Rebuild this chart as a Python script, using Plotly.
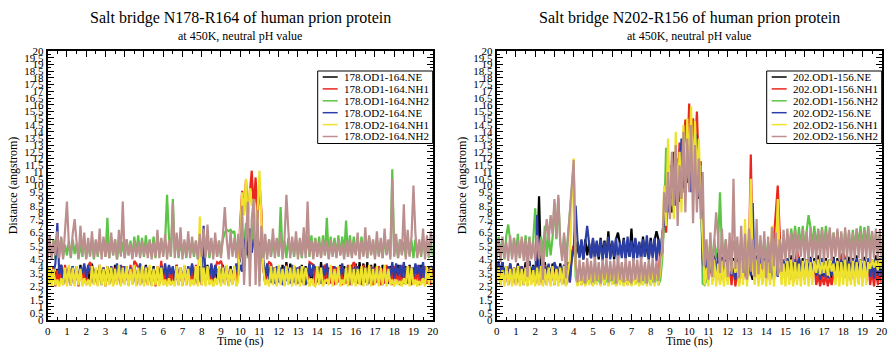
import plotly.graph_objects as go

W, H = 889, 348
FONT = "Liberation Serif"

# ---------------- data ----------------
TIME_STEP_NS = 0.1

LEFT_TITLE = "Salt bridge N178-R164 of human prion protein"
RIGHT_TITLE = "Salt bridge N202-R156 of human prion protein"
SUBTITLE = "at 450K, neutral pH value"
X_LABEL = "Time (ns)"
Y_LABEL = "Distance (angstrom)"

LEFT_NAMES = ["178.OD1-164.NE", "178.OD1-164.NH1", "178.OD1-164.NH2",
              "178.OD2-164.NE", "178.OD2-164.NH1", "178.OD2-164.NH2"]
RIGHT_NAMES = ["202.OD1-156.NE", "202.OD1-156.NH1", "202.OD1-156.NH2",
               "202.OD2-156.NE", "202.OD2-156.NH1", "202.OD2-156.NH2"]
COLORS = ["#000000", "#e8281e", "#5cc545", "#2c3fa8", "#eee22c", "#bc8f8f"]

X_TICK_VALS = list(range(21))
X_TICK_LABELS = [str(v) for v in range(21)]
Y_TICK_VALS = [0, 0.5, 1, 1.5, 2, 2.5, 3, 3.5, 4, 4.5, 5, 5.5, 6, 6.5, 7, 7.5, 8, 8.5, 9, 9.5,
               10, 10.5, 11, 11.5, 12, 12.5, 13, 13.5, 14, 14.5, 15, 15.5, 16, 16.5, 17, 17.5,
               18, 18.5, 19, 19.5, 20]
Y_TICK_LABELS = ["0", "0.5", "1", "1.5", "2", "2.5", "3", "3.5", "4", "4.5", "5", "5.5", "6",
                 "6.5", "7", "7.5", "8", "8.5", "9", "9.5", "10", "10.5", "11", "11.5", "12",
                 "12.5", "13", "13.5", "14", "14.5", "15", "15.5", "16", "16.5", "17", "17.5",
                 "18", "18.5", "19", "19.5", "20"]

# ---- left panel: N178-R164 (one value every 0.1 ns, 0..20 ns) ----
L_OD1_NE = [
    3.0,3.9,2.8,4.0,2.9,3.8,2.7,4.1,3.0,3.7,
    2.8,3.9,3.1,4.0,2.7,3.8,2.9,4.1,2.8,3.9,
    3.0,3.7,2.7,4.2,2.9,3.8,3.1,4.0,2.8,3.9,
    2.7,4.0,3.0,3.8,2.8,4.1,2.9,3.7,2.7,3.9,
    3.0,4.0,2.8,3.8,2.9,4.1,2.7,3.9,3.0,3.8,
    2.8,4.1,3.0,3.9,2.7,4.0,2.9,3.8,2.8,4.1,
    2.9,3.8,2.7,4.0,3.0,3.9,2.8,4.1,2.9,3.7,
    2.7,4.0,2.9,3.8,3.0,4.1,2.8,3.9,2.7,4.0,
    3.0,3.9,2.8,4.1,2.9,3.8,2.7,4.0,3.0,3.9,
    2.8,4.1,2.9,3.8,2.7,4.0,3.0,3.9,2.8,4.0,
    4.6,6.2,5.0,6.8,4.8,6.0,5.4,6.5,4.9,5.8,
    5.2,6.0,3.9,2.8,4.0,3.0,4.2,2.7,3.9,2.9,
    4.0,2.8,4.1,3.0,4.3,2.9,4.2,2.8,4.0,3.0,
    3.9,2.7,4.1,2.9,4.0,3.0,3.8,2.8,4.1,2.9,
    4.0,2.8,4.3,3.0,4.1,2.7,3.9,2.9,4.0,2.8,
    3.9,3.0,4.1,2.8,4.0,2.9,3.8,2.7,4.1,3.0,
    4.2,2.9,4.3,3.1,4.2,3.0,4.3,2.9,4.1,3.0,
    4.2,2.8,4.0,3.0,4.1,2.9,3.9,2.7,4.0,2.8,
    3.9,3.0,4.1,2.9,3.8,2.7,4.0,3.0,4.1,2.8,
    3.9,2.9,4.0,2.8,4.1,3.0,3.8,2.7,4.0,2.9,
    3.9]
L_OD1_NH1 = [
    2.6,3.8,2.7,4.0,2.5,3.7,2.8,3.9,2.6,4.1,
    2.7,3.9,2.6,3.8,2.8,4.0,2.5,3.9,2.7,3.8,
    2.6,4.0,4.3,3.9,2.7,3.8,2.6,4.1,2.8,3.9,
    2.5,3.8,2.7,4.0,2.6,3.9,2.8,3.7,2.6,4.0,
    2.7,3.9,2.6,4.1,2.8,4.4,4.2,3.9,2.6,3.8,
    2.8,4.0,2.6,3.9,2.7,3.8,2.5,4.0,2.7,4.4,
    2.6,3.9,2.8,4.0,2.6,3.8,2.7,4.1,2.6,3.9,
    2.7,3.8,2.6,4.0,2.8,3.9,2.6,4.1,2.7,3.8,
    2.6,4.0,2.8,3.9,2.7,4.1,2.6,3.8,4.3,4.2,
    4.4,3.9,2.7,4.0,2.6,3.8,2.7,4.0,2.6,3.9,
    7.2,9.6,8.0,10.4,7.8,9.5,11.1,8.2,10.6,7.5,
    10.3,8.1,3.9,2.7,4.0,4.3,4.2,2.8,3.9,2.6,
    4.0,2.7,3.8,2.6,4.1,2.8,3.9,2.7,4.0,2.6,
    3.9,2.8,4.0,2.6,3.8,2.7,4.3,4.2,4.1,2.6,
    4.0,2.7,3.9,2.6,4.1,2.8,3.8,2.7,4.0,2.6,
    3.9,2.8,4.0,2.6,3.8,2.7,4.1,2.6,3.9,4.3,
    4.0,2.7,3.8,2.6,4.1,2.8,3.9,2.7,4.0,2.6,
    3.9,2.8,4.0,2.6,3.8,2.7,4.1,2.8,3.9,2.6,
    4.0,2.7,3.8,2.6,4.1,2.8,3.9,2.7,4.0,2.6,
    3.8,2.7,4.1,2.6,3.9,2.8,4.0,2.7,3.8,2.6,
    3.9]
L_OD1_NH2 = [
    4.6,5.8,4.8,6.0,4.5,5.7,4.9,6.1,4.7,5.6,
    4.8,5.9,4.6,6.0,4.9,5.7,4.5,5.8,4.7,6.0,
    4.6,5.7,4.8,6.1,4.5,5.9,4.7,5.8,4.9,6.0,
    4.7,7.6,4.6,5.9,4.8,6.0,4.5,5.7,4.9,5.8,
    4.6,6.0,4.8,5.9,4.7,6.2,4.9,6.3,4.8,6.1,
    4.7,6.3,4.9,6.0,4.8,6.2,4.6,6.1,4.9,6.0,
    4.8,5.9,9.3,6.2,4.7,9.0,5.0,6.1,4.6,6.0,
    4.8,5.8,4.6,6.0,4.9,5.7,4.7,5.9,4.5,6.0,
    4.7,5.9,4.8,6.1,4.6,5.8,4.9,6.0,4.7,5.9,
    4.8,6.0,6.5,6.7,6.6,6.7,6.5,6.6,4.8,6.0,
    4.9,6.3,5.0,7.2,4.6,6.8,5.2,7.5,4.8,6.2,
    2.9,6.0,4.6,5.8,4.8,6.0,4.7,5.9,4.9,6.0,
    4.7,8.4,4.8,5.9,4.6,6.1,4.9,5.8,4.7,6.0,
    4.8,5.9,4.6,6.0,4.9,6.2,4.7,6.3,4.8,6.1,
    4.9,6.2,4.7,6.3,4.8,7.6,4.6,6.2,4.9,6.1,
    4.7,6.3,4.8,6.2,4.9,7.4,4.7,6.3,4.8,6.2,
    4.9,6.1,4.7,6.2,4.8,6.0,4.6,6.1,4.9,5.9,
    4.7,6.0,4.8,5.8,4.6,6.1,4.9,5.9,4.7,11.2,
    4.8,5.9,4.6,6.0,4.9,5.8,4.7,6.1,4.8,5.9,
    4.6,6.0,4.8,5.8,4.7,6.1,4.9,5.9,4.6,6.0,
    4.8]
L_OD2_NE = [
    2.7,3.9,2.8,3.6,4.2,7.2,3.4,4.1,2.7,3.8,
    2.8,3.9,2.6,4.0,2.9,3.7,2.7,3.9,3.5,4.2,
    3.2,4.1,3.4,3.9,2.7,3.8,2.8,4.0,2.6,3.9,
    2.8,3.7,2.7,4.0,2.9,3.4,4.2,3.1,4.1,3.3,
    4.0,3.2,2.8,3.9,2.7,3.8,2.6,3.4,4.2,3.3,
    2.7,4.0,2.8,3.8,2.6,3.9,2.9,3.7,2.7,4.0,
    3.3,4.2,3.1,4.1,3.4,4.0,2.8,3.9,2.7,3.8,
    2.6,3.9,2.8,4.0,3.3,4.2,3.2,3.8,2.7,3.9,
    2.8,7.0,2.7,3.9,3.2,4.2,3.1,4.1,3.4,3.8,
    2.7,3.9,2.8,4.0,2.6,3.8,2.9,3.4,4.2,3.3,
    4.1,3.6,5.5,6.2,4.8,6.8,5.0,6.0,5.3,6.4,
    5.0,5.8,4.3,3.2,4.2,3.0,2.8,3.9,2.7,4.0,
    2.8,3.9,2.6,4.0,2.9,3.8,2.7,4.1,2.8,3.9,
    2.7,4.0,2.8,3.8,2.6,3.3,4.2,3.2,4.1,3.9,
    2.8,3.9,2.7,4.0,3.3,4.2,3.1,3.8,2.9,4.0,
    2.7,3.8,3.3,4.2,3.2,3.9,2.8,4.0,2.6,3.9,
    2.8,4.0,2.7,3.8,2.9,3.9,2.6,4.0,2.8,3.9,
    2.7,4.0,2.9,3.8,2.6,3.9,2.8,4.0,3.2,4.3,
    3.1,4.2,3.3,4.1,3.2,4.3,3.0,4.0,2.8,3.9,
    3.2,4.2,3.4,4.1,3.1,4.3,2.9,3.8,2.7,4.0,
    3.8]
L_OD2_NH1 = [
    2.6,4.0,2.5,3.8,2.6,3.0,2.5,3.1,2.6,3.9,
    2.5,4.1,2.6,3.9,2.5,4.0,2.6,3.8,2.5,3.1,
    2.6,3.0,2.5,4.0,2.6,3.9,2.5,4.1,2.6,3.8,
    2.5,4.0,2.6,3.9,2.5,3.8,2.6,4.1,2.5,3.9,
    2.6,4.0,2.5,3.8,2.6,4.1,2.5,3.9,2.6,4.0,
    2.5,3.9,2.6,4.1,2.5,3.8,2.6,4.0,2.5,3.9,
    2.6,3.0,2.5,3.1,2.6,2.9,2.5,4.0,2.6,3.9,
    2.5,4.1,2.6,3.8,2.5,3.0,2.6,4.0,2.5,7.7,
    2.6,3.9,2.5,4.0,2.6,3.0,2.5,3.1,2.6,4.0,
    2.5,3.9,2.6,4.1,2.5,3.8,2.6,4.0,2.5,2.9,
    6.5,9.5,7.8,10.5,7.0,9.8,8.5,9.0,6.8,8.2,
    11.1,7.5,3.9,2.6,3.0,2.5,4.0,2.6,3.9,2.5,
    4.1,2.6,3.8,2.5,4.0,2.6,3.9,2.5,4.1,2.6,
    3.8,2.5,4.0,2.6,3.9,3.0,2.5,3.1,2.6,2.5,
    4.0,2.6,3.9,2.5,2.9,3.0,2.6,4.1,2.5,3.8,
    2.6,4.0,2.5,3.0,2.6,3.9,2.5,4.1,2.6,3.8,
    2.5,3.8,2.6,4.0,2.5,3.9,2.6,4.1,2.5,3.8,
    2.6,4.0,2.5,3.9,2.6,4.1,2.5,3.8,2.6,3.0,
    2.5,3.0,2.6,2.9,2.5,3.1,2.6,4.0,2.5,3.9,
    2.6,3.0,2.5,2.9,2.6,3.1,2.5,4.0,2.6,3.9,
    2.6]
L_OD2_NH2 = [
    4.6,6.3,4.5,5.9,4.8,6.6,4.6,6.2,4.5,6.9,
    8.8,5.6,4.7,6.4,7.5,5.8,4.6,7.0,4.8,6.5,
    4.5,6.1,4.7,6.6,4.6,6.0,4.8,6.8,4.5,6.2,
    4.7,5.8,4.6,6.5,4.8,6.0,4.5,6.7,4.7,8.8,
    4.6,6.0,4.8,5.7,4.5,5.9,4.7,5.8,4.6,5.9,
    4.8,5.7,4.6,5.9,4.5,5.8,4.7,6.7,4.6,6.1,
    4.7,6.4,4.5,5.9,4.8,8.7,4.6,6.5,4.7,6.9,
    4.5,6.0,4.7,6.6,4.6,6.2,4.8,5.9,4.5,6.4,
    4.7,6.8,4.6,7.1,4.8,6.1,4.5,6.5,4.7,5.9,
    4.6,6.3,8.4,6.0,4.5,6.6,4.7,6.1,4.6,6.4,
    4.5,8.5,2.6,6.0,8.8,2.5,7.5,9.0,2.6,8.2,
    2.5,7.0,4.6,6.4,4.5,6.0,4.7,6.8,4.6,6.1,
    4.8,6.5,4.5,6.0,9.3,6.7,4.6,6.2,4.8,6.6,
    4.5,6.1,4.7,6.9,4.6,8.8,4.8,5.9,4.5,6.0,
    4.7,5.8,4.6,6.0,4.8,5.9,4.5,6.0,4.7,5.8,
    4.6,6.0,4.8,5.7,4.5,5.9,4.7,6.0,4.6,5.8,
    4.8,6.5,4.5,5.9,4.7,6.9,4.6,6.3,4.8,6.0,
    4.5,6.6,4.7,6.1,4.6,6.8,4.8,6.0,4.5,10.5,
    4.7,6.4,4.6,6.0,4.8,8.6,4.5,6.7,4.7,6.2,
    10.0,6.5,4.6,6.0,4.8,6.8,4.5,6.3,4.7,6.6,
    5.8]

# ---- right panel: N202-R156 ----
R_OD1_NE = [
    3.2,4.1,3.0,4.3,3.3,4.0,3.1,4.2,3.0,3.9,
    3.3,4.2,3.1,4.0,3.2,4.3,3.5,4.4,3.2,4.1,
    3.0,4.2,9.2,4.0,3.1,4.3,3.2,4.1,3.0,4.2,
    3.3,4.0,3.1,4.2,3.2,4.1,3.0,4.3,3.4,4.8,
    5.5,4.6,5.8,4.7,5.9,4.5,6.0,4.8,5.7,4.6,
    6.0,4.7,5.8,4.5,6.1,4.8,5.9,4.6,6.6,4.7,
    5.8,4.5,6.0,6.5,5.7,4.8,6.1,4.6,5.9,4.7,
    6.8,4.5,6.0,4.8,5.8,4.6,6.2,4.7,5.9,4.5,
    6.1,4.8,5.9,6.6,6.0,4.6,6.3,7.5,9.0,8.2,
    10.5,8.0,11.0,9.2,12.0,8.8,11.5,9.5,13.0,10.2,
    12.5,9.8,11.8,10.5,12.2,9.0,10.8,4.2,3.5,4.6,
    3.2,4.5,3.4,4.8,3.1,4.4,3.3,4.7,3.2,4.5,
    3.5,4.8,3.2,4.6,3.4,4.9,3.1,4.5,3.3,4.7,
    3.2,4.6,3.5,3.0,3.4,4.8,3.1,4.5,3.3,4.6,
    3.1,4.7,3.4,4.5,3.2,4.8,3.3,4.6,3.1,4.4,
    3.3,4.6,3.2,4.8,3.4,4.5,3.1,4.7,3.3,4.6,
    3.2,4.5,3.4,4.7,3.1,4.6,3.3,4.8,3.0,3.4,
    3.2,4.6,3.4,4.5,3.1,4.7,3.3,4.6,3.2,4.8,
    3.4,4.5,3.1,4.7,3.3,4.6,3.2,4.8,3.4,4.5,
    3.1,4.7,3.3,4.6,3.2,4.5,3.4,4.8,3.1,4.6,
    3.3]
R_OD1_NH1 = [
    2.7,3.9,2.6,4.0,2.8,3.8,2.6,4.1,2.7,3.9,
    2.6,3.8,2.8,4.0,2.7,3.9,2.6,4.1,2.8,3.8,
    2.7,4.0,2.6,3.9,2.8,4.1,2.6,3.8,2.7,4.0,
    2.6,3.9,2.8,4.0,2.7,3.8,2.6,4.1,2.8,5.0,
    5.5,3.9,2.7,4.0,2.6,3.8,2.8,4.1,2.7,3.9,
    2.6,4.0,2.8,3.8,2.7,4.1,2.6,3.9,2.8,4.0,
    2.7,3.8,2.6,4.1,2.8,3.9,2.7,4.0,2.6,3.8,
    2.8,4.1,2.7,3.9,2.6,4.0,2.8,3.8,2.7,4.1,
    2.6,3.9,2.8,4.0,2.7,5.6,5.0,7.8,6.5,9.2,
    8.0,10.5,9.0,12.0,10.0,13.2,11.0,12.5,14.9,12.0,
    16.1,13.0,15.0,12.5,15.5,11.0,11.8,5.0,3.8,4.6,
    3.0,4.4,2.9,4.2,3.1,4.5,2.8,4.3,3.0,4.4,
    2.9,4.1,2.6,4.2,2.5,3.8,2.7,4.4,3.0,4.5,
    3.1,4.3,12.3,4.5,2.9,4.2,3.0,4.4,2.8,4.3,
    3.0,4.5,2.9,4.2,5.8,8.0,10.0,6.2,3.1,4.4,
    2.9,4.3,3.0,4.5,2.8,4.2,5.2,4.5,3.1,4.4,
    3.0,4.2,2.9,4.5,3.1,4.3,2.6,3.4,2.5,3.3,
    2.6,3.4,2.5,3.2,2.6,3.5,3.0,4.4,2.9,4.8,
    5.0,4.6,3.1,4.3,2.9,4.5,3.0,4.2,2.8,4.4,
    3.1,4.3,2.9,4.5,2.6,3.7,2.5,3.8,2.6,3.6,
    2.7]
R_OD1_NH2 = [
    4.6,6.2,4.8,6.0,4.5,6.3,7.1,5.9,4.7,6.1,
    4.9,6.4,4.6,6.0,4.8,6.3,4.5,6.2,4.7,6.0,
    8.3,5.8,4.6,6.2,4.9,7.0,4.7,6.4,4.8,6.1,
    8.7,6.0,9.1,5.8,4.7,6.3,4.8,6.1,7.8,10.0,
    11.5,3.2,2.6,3.4,2.7,3.1,2.6,3.3,2.8,3.0,
    2.6,3.4,2.7,3.2,2.6,3.5,2.8,3.1,2.6,3.3,
    2.7,3.0,2.6,3.4,2.8,3.2,2.6,3.3,2.7,3.1,
    2.6,3.5,2.7,3.0,2.8,3.3,2.6,3.2,2.7,3.4,
    2.6,3.1,2.8,3.3,2.6,3.0,4.5,7.5,12.8,9.0,
    11.0,8.5,12.0,9.8,11.5,10.2,12.5,9.5,13.0,11.0,
    12.0,10.5,13.5,11.2,12.8,10.0,11.5,2.7,2.6,3.0,
    4.5,5.8,4.2,6.0,4.6,5.5,9.5,5.2,4.8,6.0,
    4.4,5.6,4.9,5.9,4.3,5.7,4.7,6.1,4.5,5.8,
    4.6,6.0,4.4,5.7,4.8,6.2,4.5,5.9,4.7,6.0,
    4.5,5.8,4.9,6.1,4.4,5.7,4.6,6.0,4.8,5.9,
    4.7,6.2,5.3,6.8,5.5,7.0,5.2,6.9,5.4,7.0,
    5.3,6.8,7.8,6.9,5.5,7.0,5.3,6.8,5.4,6.9,
    5.2,7.0,5.5,6.7,4.9,6.5,5.1,6.6,5.0,6.4,
    4.9,6.6,5.2,6.5,5.0,6.7,5.3,6.8,5.5,7.0,
    5.3,6.9,5.4,7.0,5.2,6.6,5.0,6.5,4.9,6.4,
    5.1]
R_OD2_NE = [
    3.6,4.4,3.5,4.3,2.8,4.0,2.7,4.2,2.9,3.9,
    2.7,4.1,2.8,4.0,2.6,3.9,3.5,4.3,2.8,4.0,
    2.7,7.8,2.9,4.1,2.6,4.0,2.8,4.2,2.7,3.6,
    4.3,3.8,2.8,4.0,2.7,4.1,2.6,3.9,2.8,4.6,
    5.2,8.5,5.8,4.6,6.0,4.5,5.9,7.0,5.7,4.6,
    6.1,4.5,5.9,4.7,6.0,4.4,5.8,4.6,6.2,4.5,
    5.9,4.7,6.1,4.4,5.8,4.6,6.0,4.5,6.2,4.7,
    5.9,4.4,6.1,4.6,5.8,4.5,6.0,4.7,6.3,4.5,
    5.9,4.6,6.1,4.4,6.0,4.7,6.4,7.2,9.5,8.0,
    11.5,9.0,12.5,8.5,11.0,10.0,13.5,9.8,12.0,10.5,
    13.0,9.5,12.0,10.8,13.8,9.2,11.0,4.6,3.2,4.5,
    3.1,4.4,3.3,4.6,3.0,5.0,3.2,4.5,3.4,4.3,
    3.1,4.6,3.3,4.4,3.0,4.5,5.0,3.9,3.2,4.6,
    3.0,4.5,3.3,8.7,3.1,4.6,3.2,4.4,5.0,4.2,
    3.1,5.0,3.3,4.5,3.0,4.6,3.2,4.4,3.1,4.5,
    3.3,4.6,3.0,4.4,3.2,4.5,3.1,4.6,3.3,4.4,
    3.0,4.5,3.2,4.6,3.1,4.4,3.3,4.5,3.0,4.6,
    3.2,4.4,3.1,4.5,3.3,4.6,3.0,4.4,3.2,4.5,
    3.1,4.6,3.3,4.4,3.0,4.5,3.2,4.6,3.1,4.4,
    3.3,4.5,3.0,4.6,3.2,4.4,3.1,4.5,3.3,4.6,
    3.2]
R_OD2_NH1 = [
    2.5,3.9,2.6,3.7,2.5,4.0,2.6,3.8,2.5,3.9,
    2.6,4.0,2.5,3.8,2.6,3.9,2.5,4.0,2.6,3.7,
    2.5,3.9,2.6,4.0,2.5,3.8,2.6,3.9,2.5,4.0,
    2.6,3.8,2.5,3.9,2.6,4.0,2.5,3.7,4.5,9.0,
    12.0,3.9,2.5,3.8,2.6,4.0,2.5,3.9,2.6,3.7,
    2.5,3.9,2.6,4.0,2.5,3.8,2.6,3.9,2.5,4.0,
    2.6,3.8,2.5,3.9,2.6,4.0,2.5,3.7,2.6,3.9,
    2.5,4.0,2.6,3.8,2.5,3.9,2.6,4.0,2.5,3.8,
    2.6,3.9,2.5,4.0,2.6,3.8,5.5,10.0,7.0,13.5,
    8.5,12.0,7.5,14.0,9.0,12.5,8.0,14.5,10.0,15.0,
    11.0,15.9,9.5,14.8,10.5,13.5,8.5,6.0,2.6,3.9,
    2.5,6.5,2.6,4.5,2.5,4.2,2.6,4.4,2.5,4.3,
    2.6,4.5,3.6,4.4,3.5,4.3,2.5,4.5,2.6,7.5,
    2.5,4.4,10.5,4.3,2.6,4.5,2.5,4.2,2.6,4.4,
    2.5,4.3,2.6,7.0,2.5,4.5,9.0,4.4,2.6,4.2,
    2.5,4.4,2.6,4.5,2.5,4.3,2.6,4.2,2.5,4.4,
    2.6,4.5,2.5,4.3,2.6,4.4,3.5,4.5,3.4,4.3,
    3.5,4.4,3.3,4.5,3.6,4.2,2.6,4.4,2.5,4.3,
    2.6,4.5,2.5,4.2,2.6,4.4,2.5,4.3,2.6,4.5,
    2.5,4.4,2.6,4.3,3.8,4.5,3.9,4.4,3.7,4.5,
    3.8]
R_OD2_NH2 = [
    4.5,6.0,4.3,6.2,4.6,5.8,4.4,6.3,4.5,6.1,
    4.3,5.9,4.6,6.2,4.4,6.0,3.2,6.1,4.5,5.8,
    4.4,6.3,4.5,6.0,3.0,6.2,7.5,5.9,7.8,6.4,
    9.0,6.1,9.3,5.8,4.4,6.5,3.1,6.2,8.0,10.2,
    11.9,4.2,2.8,4.5,2.9,4.3,2.7,4.6,3.0,4.4,
    2.8,4.7,2.9,4.3,2.7,4.5,3.0,4.6,2.8,4.4,
    2.9,4.5,2.7,4.8,3.0,4.3,2.8,4.6,2.9,4.4,
    2.7,4.6,3.0,4.5,2.8,4.7,2.9,4.3,2.7,4.5,
    3.0,4.6,2.8,4.4,2.9,4.7,5.0,9.5,8.0,11.0,
    7.5,12.5,8.5,13.0,7.0,11.5,9.0,14.0,8.0,13.5,
    9.5,14.5,7.2,13.0,8.0,12.0,7.5,11.0,4.0,6.0,
    3.0,6.5,3.2,5.8,8.0,6.2,3.5,6.8,4.0,6.0,
    3.2,6.5,3.4,10.5,3.8,6.2,3.1,7.0,3.5,6.4,
    3.0,6.8,3.6,6.0,3.2,7.5,3.4,6.3,3.8,6.6,
    3.1,6.2,3.5,6.9,4.0,6.5,3.3,6.0,3.6,6.7,
    4.4,6.8,4.6,6.5,4.3,6.7,4.5,6.4,4.7,6.8,
    4.5,6.6,4.3,6.9,4.6,6.5,4.4,6.7,4.5,6.8,
    4.3,6.6,4.6,6.9,4.4,6.5,4.7,6.8,4.5,6.6,
    4.4,6.9,4.6,6.7,4.3,6.5,4.5,6.8,4.6,6.6,
    4.4,6.7,4.5,6.9,4.3,6.6,4.6,6.8,4.4,6.7,
    4.5]

LEFT_SERIES = [L_OD1_NE, L_OD1_NH1, L_OD1_NH2, L_OD2_NE, L_OD2_NH1, L_OD2_NH2]
RIGHT_SERIES = [R_OD1_NE, R_OD1_NH1, R_OD1_NH2, R_OD2_NE, R_OD2_NH1, R_OD2_NH2]
for s in LEFT_SERIES + RIGHT_SERIES:
    assert len(s) == 201, len(s)

# ---------------- layout helpers (pixels -> paper) ----------------
def px(x):
    return x / W

def py(y):
    return 1 - y / H

PLOT_TOP, PLOT_BOTTOM = 51, 320
LEFT_X0, LEFT_X1 = 47.7, 432.7
RIGHT_X0, RIGHT_X1 = 496.7, 881.7

fig = go.Figure()

panels = [
    ("x", "y", LEFT_SERIES, LEFT_NAMES),
    ("x2", "y2", RIGHT_SERIES, RIGHT_NAMES),
]
for xa, ya, series, names in panels:
    for vals, name, col in zip(series, names, COLORS):
        t = [round(i * TIME_STEP_NS, 2) for i in range(len(vals))]
        fig.add_trace(go.Scatter(x=t, y=vals, name=name, mode="lines",
                                 line=dict(color=col, width=2.2),
                                 xaxis=xa, yaxis=ya, showlegend=False,
                                 hoverinfo="skip"))

axis_common = dict(
    showline=True, linewidth=2, linecolor="black", mirror="allticks",
    ticks="inside", ticklen=6, tickwidth=1.2, tickcolor="black",
    showgrid=False, zeroline=False, automargin=False,
    tickfont=dict(family=FONT, size=11, color="black"),
)
xaxis_cfg = dict(axis_common, range=[0, 20], tickmode="array",
                 tickvals=X_TICK_VALS, ticktext=X_TICK_LABELS,
                 minor=dict(ticks="inside", ticklen=3, tickwidth=1, tickcolor="black",
                            tickmode="linear", tick0=0, dtick=0.5, showgrid=False),
                 title=dict(text=X_LABEL, font=dict(family=FONT, size=12, color="black"),
                            standoff=1))
yaxis_cfg = dict(axis_common, range=[0, 20], tickmode="array",
                 tickvals=Y_TICK_VALS, ticktext=Y_TICK_LABELS,
                 minor=dict(ticks="inside", ticklen=3, tickwidth=1, tickcolor="black",
                            tickmode="linear", tick0=0, dtick=0.25, showgrid=False),
                 title=dict(text=Y_LABEL, font=dict(family=FONT, size=12, color="black"),
                            standoff=4))

ydom = [py(PLOT_BOTTOM), py(PLOT_TOP)]
fig.update_layout(
    width=W, height=H, autosize=False,
    margin=dict(l=0, r=0, t=0, b=0, autoexpand=False),
    paper_bgcolor="white", plot_bgcolor="white",
    xaxis=dict(xaxis_cfg, domain=[px(LEFT_X0), px(LEFT_X1)], anchor="y"),
    yaxis=dict(yaxis_cfg, domain=ydom, anchor="x"),
    xaxis2=dict(xaxis_cfg, domain=[px(RIGHT_X0), px(RIGHT_X1)], anchor="y2"),
    yaxis2=dict(yaxis_cfg, domain=ydom, anchor="x2"),
    showlegend=False,
    font=dict(family=FONT, color="black"),
)

annotations = []
shapes = []
for (x0, x1, title, names) in [(LEFT_X0, LEFT_X1, LEFT_TITLE, LEFT_NAMES),
                               (RIGHT_X0, RIGHT_X1, RIGHT_TITLE, RIGHT_NAMES)]:
    cx = (x0 + x1) / 2
    annotations.append(dict(x=px(cx), y=py(18), xref="paper", yref="paper",
                            text=title, showarrow=False, xanchor="center", yanchor="middle",
                            font=dict(family=FONT, size=16, color="black")))
    annotations.append(dict(x=px(cx), y=py(36), xref="paper", yref="paper",
                            text=SUBTITLE, showarrow=False, xanchor="center", yanchor="middle",
                            font=dict(family=FONT, size=12, color="black")))
    # legend box drawn manually (compact, like the original)
    bx0, bx1, by0, by1 = x1 - 115, x1, 71, 143.5
    shapes.append(dict(type="rect", xref="paper", yref="paper",
                       x0=px(bx0), x1=px(bx1), y0=py(by1), y1=py(by0),
                       line=dict(color="black", width=1), fillcolor="white", layer="above"))
    for i, (name, col) in enumerate(zip(names, COLORS)):
        yy = 77 + 11.9 * i
        shapes.append(dict(type="line", xref="paper", yref="paper",
                           x0=px(bx0 + 5), x1=px(bx0 + 20), y0=py(yy), y1=py(yy),
                           line=dict(color=col, width=1.5), layer="above"))
        annotations.append(dict(x=px(bx0 + 26), y=py(yy), xref="paper", yref="paper",
                                text=name, showarrow=False, xanchor="left", yanchor="middle",
                                borderpad=0, borderwidth=0,
                                font=dict(family=FONT, size=11, color="black")))

fig.update_layout(annotations=annotations, shapes=shapes)
fig.write_html("out.html", config={"displayModeBar": False},
               post_script="document.body.style.margin='0px';document.body.style.padding='0px';")
